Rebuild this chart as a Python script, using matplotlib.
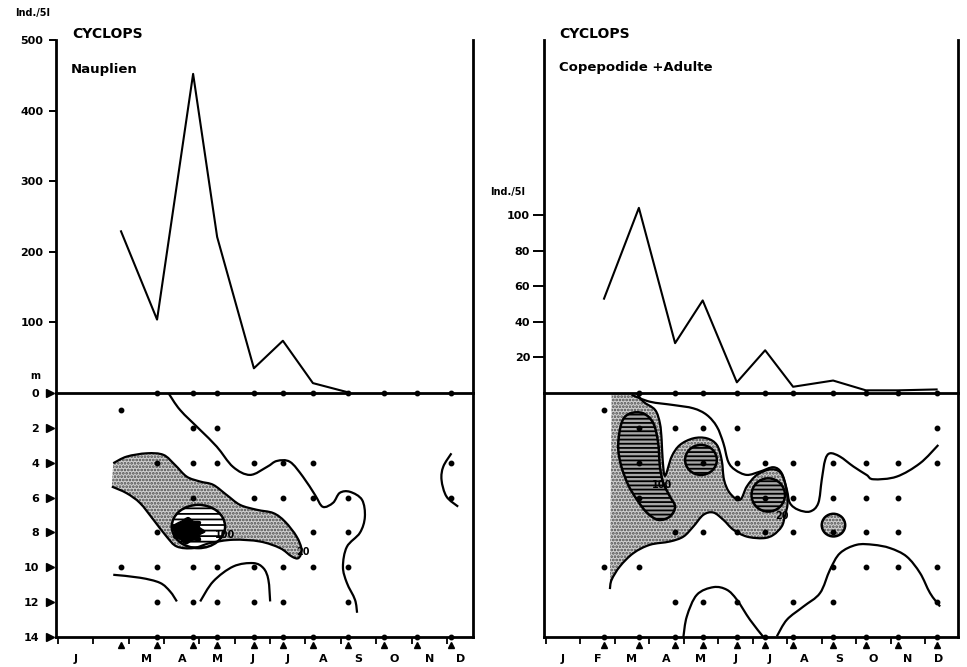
import numpy as np
import matplotlib
matplotlib.use('Agg')
import matplotlib.pyplot as plt
from matplotlib.path import Path
from matplotlib.patches import PathPatch, Ellipse

plt.rcParams['font.family'] = ['DejaVu Sans']
plt.rcParams['font.weight'] = 'bold'
plt.rcParams['hatch.linewidth'] = 1.3

# ------------------------------------------------------------------ data
month_label_pos = [0.5, 1.5, 2.5, 3.5, 4.5, 5.5, 6.5, 7.5, 8.5, 9.5, 10.5, 11.38]
month_labels_naup = ['J', '', 'M', 'A', 'M', 'J', 'J', 'A', 'S', 'O', 'N', 'D']
month_labels_cop = ['J', 'F', 'M', 'A', 'M', 'J', 'J', 'A', 'S', 'O', 'N', 'D']
depth_ticks = [0, 2, 4, 6, 8, 10, 12, 14]

# sampling dates (months after 1 Jan)
dates_naup = [1.78, 2.80, 3.82, 4.50, 5.54, 6.36, 7.21, 8.20, 9.22, 10.15, 11.11]
dates_cop = [1.69, 2.70, 3.75, 4.55, 5.54, 6.36, 7.17, 8.33, 9.28, 10.21, 11.33]

# integrated abundance (Ind./5 l)
naup_total = [229, 104, 452, 221, 35, 74, 14, 1]
cop_total = [53, 104, 28, 52, 6, 24, 3.5, 7, 1.5, 1.5, 2]

# sampled depths (index of sampling date per depth)
naup_dots = {0: [1, 2, 3, 4, 5, 6, 7, 8, 9, 10], 1: [0], 2: [2, 3],
             4: [1, 2, 3, 4, 5, 6, 10], 6: [2, 4, 5, 6, 7, 10], 8: [1, 2, 6, 7],
             10: [0, 1, 2, 3, 4, 5, 6, 7], 12: [1, 2, 3, 4, 5, 7],
             14: [1, 2, 3, 4, 5, 6, 7, 8, 9, 10]}
cop_dots = {0: [1, 2, 3, 4, 5, 6, 7, 8, 9, 10], 1: [0], 2: [1, 2, 3, 4, 10],
            4: [1, 3, 4, 5, 6, 7, 8, 9, 10], 6: [1, 4, 5, 6, 7, 8, 9],
            8: [2, 3, 4, 5, 6, 7, 8, 9], 10: [0, 1, 7, 8, 9, 10],
            12: [2, 3, 4, 6, 7, 10], 14: [0, 1, 2, 3, 4, 5, 6, 7, 8, 9, 10]}

# --- isolines Nauplien (month, depth)
naup_iso_a_m = [3.12, 3.45, 4.02, 4.49, 4.95, 5.43, 5.91, 6.19, 6.56, 6.93, 7.27, 7.49,
                7.78, 7.97, 8.26, 8.60, 8.68, 8.54, 8.17, 8.06, 8.17, 8.40, 8.46]
naup_iso_a_d = [0.0, 0.97, 2.12, 3.08, 4.24, 4.70, 4.24, 3.90, 3.95, 4.81, 5.85, 6.53,
                6.30, 5.73, 5.67, 6.13, 7.11, 8.02, 8.83, 9.97, 10.89, 11.86, 12.61]
naup_iso20_m = [1.56, 1.94, 2.51, 2.98, 3.31, 3.64, 4.02, 4.39, 4.77, 5.15, 5.62, 6.09,
                6.42, 6.75, 6.89, 6.80, 6.61, 6.28, 5.71, 4.96, 4.30, 3.83, 3.36, 3.07,
                2.70, 2.32, 1.94, 1.52]
naup_iso20_d = [4.03, 3.65, 3.46, 3.55, 4.13, 4.80, 5.08, 5.27, 5.85, 6.42, 6.70, 6.89,
                7.38, 8.24, 9.00, 9.47, 9.38, 8.90, 8.52, 8.42, 8.61, 8.90, 8.81, 8.24,
                7.28, 6.32, 5.75, 5.37]
naup_iso100 = (3.97, 7.66, 1.51, 2.48)          # centre month, centre depth, width, height
naup_iso200_m = [3.30, 3.50, 3.68, 3.82, 4.02, 4.00, 4.15, 4.00, 4.02, 3.80, 3.62, 3.45,
                 3.28, 3.30, 3.22]
naup_iso200_d = [7.55, 7.35, 7.15, 7.35, 7.40, 7.70, 7.95, 8.15, 8.45, 8.45, 8.65, 8.40,
                 8.30, 8.00, 7.75]
naup_iso_b_m = [1.56, 2.32, 2.88, 3.17, 3.36]
naup_iso_b_d = [10.43, 10.60, 10.89, 11.39, 11.96]
naup_iso_c_m = [4.02, 4.39, 4.96, 5.52, 5.81, 5.95, 6.00]
naup_iso_c_d = [11.96, 10.81, 9.95, 9.76, 10.05, 10.72, 11.96]
naup_iso_d_m = [11.13, 10.90, 10.85, 10.99, 11.32]
naup_iso_d_d = [3.46, 4.22, 4.99, 5.94, 6.52]

# --- isolines Copepodide + Adulte (month, depth)
cop_iso_a_m = [2.49, 3.02, 3.70, 4.28, 4.67, 4.96, 5.15, 5.29, 5.49, 5.83, 6.21, 6.60,
               6.84, 6.99, 7.08, 7.32, 7.66, 7.90, 8.00, 8.10, 8.24, 8.53, 8.92, 9.30,
               9.50, 10.17, 10.85, 11.38]
cop_iso_a_d = [0.11, 0.50, 0.69, 0.88, 1.26, 1.93, 2.88, 3.94, 4.41, 4.70, 4.51, 4.26,
               4.60, 5.56, 6.32, 6.70, 6.80, 6.32, 4.99, 3.84, 3.46, 3.65, 4.22, 4.70,
               4.95, 4.80, 4.03, 2.98]
cop_iso20_left = 1.91
cop_iso20_m = [2.64, 2.83, 3.17, 3.31, 3.36, 3.39, 3.46, 3.65, 3.89, 4.28, 4.67, 4.96,
               5.10, 5.17, 5.34, 5.63, 5.83, 6.12, 6.52, 6.81, 6.96, 7.01, 6.93, 6.84,
               6.60, 6.31, 5.83, 5.44, 5.15, 4.86, 4.57, 4.28, 3.99, 3.60, 3.02, 2.54,
               2.15, 1.91, 1.86]
cop_iso20_d = [0.02, 0.50, 0.97, 1.74, 2.69, 3.84, 4.75, 3.65, 2.98, 2.60, 2.60, 2.98,
               3.84, 4.99, 5.75, 6.13, 5.36, 4.70, 4.38, 4.58, 5.36, 6.32, 7.09, 7.66,
               8.14, 8.33, 8.24, 7.85, 7.28, 6.86, 6.99, 7.66, 8.24, 8.52, 8.71, 9.19,
               9.95, 10.72, 11.25]
cop_iso100_m = [2.21, 2.45, 2.83, 3.12, 3.26, 3.31, 3.41, 3.60, 3.75, 3.60, 3.26, 2.93,
                2.64, 2.39, 2.18, 2.10]
cop_iso100_d = [1.65, 1.17, 1.17, 1.74, 2.88, 4.22, 5.17, 5.94, 6.52, 7.09, 7.28, 6.86,
                6.11, 5.27, 4.13, 2.98]
cop_iso100_ellipses = [(4.50, 3.84, 0.92, 1.72), (6.45, 5.85, 0.97, 1.91)]
cop_iso20_small = (8.34, 7.58, 0.68, 1.30)
cop_iso_b_m = [6.70, 6.99, 7.47, 7.95, 8.24, 8.53, 9.01, 9.50, 9.98, 10.46, 10.85, 11.14, 11.43]
cop_iso_b_d = [13.96, 13.01, 12.25, 11.48, 10.14, 9.19, 8.71, 8.71, 8.90, 9.38, 10.33, 11.48, 12.25]
cop_iso_c_m = [3.99, 4.09, 4.38, 4.86, 5.25, 5.54, 5.92, 6.31]
cop_iso_c_d = [14.0, 12.82, 11.58, 11.14, 11.29, 11.86, 13.01, 14.0]

# ------------------------------------------------------------------ helpers
W, H = 967, 667
fig = plt.figure(figsize=(W / 100, H / 100), dpi=100)


def rect(x0, y0, x1, y1):
    return [x0 / W, 1 - y1 / H, (x1 - x0) / W, (y1 - y0) / H]


def cr_path(xs, ys, closed=False):
    P = np.column_stack([xs, ys]).astype(float)
    n = len(P)
    if closed:
        ext = np.vstack([P[-1], P, P[0], P[1]])
        nseg = n
    else:
        ext = np.vstack([P[0], P, P[-1]])
        nseg = n - 1
    verts = [P[0]]
    codes = [Path.MOVETO]
    for i in range(nseg):
        p0, p1, p2, p3 = ext[i], ext[i + 1], ext[i + 2], ext[i + 3]
        verts += [p1 + (p2 - p0) / 6.0, p2 - (p3 - p1) / 6.0, p2]
        codes += [Path.CURVE4] * 3
    if closed:
        verts.append(P[0])
        codes.append(Path.CLOSEPOLY)
    return verts, codes


def iso_line(ax, xs, ys, lw=1.6):
    v, c = cr_path(xs, ys)
    ax.add_patch(PathPatch(Path(v, c), fill=False, lw=lw, ec='k', zorder=4))


STIP = dict(facecolor='#d0d0d0', edgecolor='#4a4a4a', hatch='.....', lw=0)
HATCH_FACE = '#a6a6a6'
LW_SP = 2.0


def setup_top(ax, xlim, ylim, yticks, tlen, tpad):
    ax.set_xlim(xlim)
    ax.set_ylim(ylim)
    ax.patch.set_alpha(0)
    ax.spines['top'].set_visible(False)
    ax.spines['bottom'].set_visible(False)
    for s in ('left', 'right'):
        ax.spines[s].set_linewidth(LW_SP)
    ax.set_xticks([])
    ax.set_yticks(yticks)
    ax.set_yticklabels([str(t) for t in yticks])
    ax.tick_params(axis='y', direction='out', length=tlen, width=1.4, pad=tpad,
                   labelsize=8)


def setup_bottom(ax, xlim, labels, dates, show_depth):
    ax.set_xlim(xlim)
    ax.set_ylim(14, 0)
    for s in ax.spines.values():
        s.set_linewidth(LW_SP)
    ax.set_xticks(range(12))
    ax.tick_params(axis='x', which='major', direction='out', length=5, width=1.3,
                   labelbottom=False)
    ax.set_xticks(month_label_pos, minor=True)
    ax.set_xticklabels(labels, minor=True)
    ax.tick_params(axis='x', which='minor', length=0, pad=12, labelsize=8)
    ax.plot(dates, [-0.033] * len(dates), '^', color='k', ms=4,
            transform=ax.get_xaxis_transform(), clip_on=False)
    if show_depth:
        ax.set_yticks(depth_ticks)
        ax.set_yticklabels([str(t) for t in depth_ticks])
        ax.tick_params(axis='y', length=0, pad=12, labelsize=8)
        ax.plot([-0.015] * len(depth_ticks), depth_ticks, '>', color='k', ms=5.5,
                transform=ax.get_yaxis_transform(), clip_on=False)
    else:
        ax.set_yticks([])


def dots(ax, dates, dd):
    for depth, idx in dd.items():
        ax.plot([dates[i] for i in idx], [depth] * len(idx), 'o', color='k', ms=3.2,
                zorder=6, clip_on=False)


# ------------------------------------------------------------------ left: Nauplien
xl_naup = (-0.06, 11.74)
axL = fig.add_axes(rect(56, 40, 473, 393))
setup_top(axL, xl_naup, (0, 500), [100, 200, 300, 400, 500], 5, 4)
axL.plot(dates_naup[:len(naup_total)], naup_total, color='k', lw=1.5)

axLb = fig.add_axes(rect(56, 393, 473, 637))
setup_bottom(axLb, xl_naup, month_labels_naup, dates_naup, True)
v, c = cr_path(naup_iso20_m, naup_iso20_d)
axLb.add_patch(PathPatch(Path(v + [v[0]], c + [Path.CLOSEPOLY]), zorder=1, **STIP))
iso_line(axLb, naup_iso20_m, naup_iso20_d)
cx, cy, ew, eh = naup_iso100
axLb.add_patch(Ellipse((cx, cy), ew, eh, facecolor='white', edgecolor='k',
                       hatch='---', lw=0, zorder=2))
axLb.add_patch(Ellipse((cx, cy), ew, eh, fill=False, edgecolor='k', lw=1.8, zorder=4))
v, c = cr_path(naup_iso200_m, naup_iso200_d, closed=True)
axLb.add_patch(PathPatch(Path(v, c), facecolor='k', edgecolor='k', lw=1, zorder=3))
for xs, ys in [(naup_iso_a_m, naup_iso_a_d), (naup_iso_b_m, naup_iso_b_d),
               (naup_iso_c_m, naup_iso_c_d), (naup_iso_d_m, naup_iso_d_d)]:
    iso_line(axLb, xs, ys)
dots(axLb, dates_naup, naup_dots)
axLb.text(4.72, 8.14, '100', fontsize=7, ha='center', va='center', zorder=7)
axLb.text(6.92, 9.10, '20', fontsize=7, ha='center', va='center', zorder=7)

# ------------------------------------------------------------------ right: Copepodide
xl_cop = (-0.05, 11.95)
axR = fig.add_axes(rect(544, 40, 958, 393))
setup_top(axR, xl_cop, (0, 198.3), [20, 40, 60, 80, 100], 8, 2)
axR.plot(dates_cop[:len(cop_total)], cop_total, color='k', lw=1.5)

axRb = fig.add_axes(rect(544, 393, 958, 637))
setup_bottom(axRb, xl_cop, month_labels_cop, dates_cop, False)
v, c = cr_path(cop_iso20_m, cop_iso20_d)
fill_v = [(cop_iso20_left, 0.0), (cop_iso20_m[0], cop_iso20_d[0])] + v[1:] + [(cop_iso20_left, 0.0)]
fill_c = [Path.MOVETO, Path.LINETO] + c[1:] + [Path.CLOSEPOLY]
axRb.add_patch(PathPatch(Path(fill_v, fill_c), zorder=1, **STIP))
iso_line(axRb, cop_iso20_m, cop_iso20_d)
v, c = cr_path(cop_iso100_m, cop_iso100_d, closed=True)
axRb.add_patch(PathPatch(Path(v, c), facecolor=HATCH_FACE, edgecolor='k', hatch='----',
                         lw=1.8, zorder=2))
for (cx, cy, ew, eh) in cop_iso100_ellipses:
    axRb.add_patch(Ellipse((cx, cy), ew, eh, facecolor=HATCH_FACE, edgecolor='k',
                           hatch='----', lw=1.8, zorder=2))
cx, cy, ew, eh = cop_iso20_small
axRb.add_patch(Ellipse((cx, cy), ew, eh, zorder=1, **STIP))
axRb.add_patch(Ellipse((cx, cy), ew, eh, fill=False, edgecolor='k', lw=1.8, zorder=4))
for xs, ys in [(cop_iso_a_m, cop_iso_a_d), (cop_iso_b_m, cop_iso_b_d),
               (cop_iso_c_m, cop_iso_c_d)]:
    iso_line(axRb, xs, ys)
dots(axRb, dates_cop, cop_dots)
axRb.text(3.37, 5.27, '100', fontsize=7, ha='center', va='center', zorder=7)
axRb.text(6.85, 7.05, '20', fontsize=7, ha='center', va='center', zorder=7)

# ------------------------------------------------------------------ texts
def ftext(px, py, s, size, **kw):
    fig.text(px / W, 1 - py / H, s, fontsize=size, va='center', ha='left', **kw)


ftext(15, 13, 'Ind./5l', 7)
ftext(72, 33.5, 'CYCLOPS', 10)
ftext(71, 69, 'Nauplien', 9.5)
ftext(30, 376, 'm', 7)
ftext(559, 33.5, 'CYCLOPS', 10)
ftext(559, 67.5, 'Copepodide +Adulte', 9.5)
ftext(490, 192, 'Ind./5l', 7)

fig.savefig('out.png', dpi=100)
